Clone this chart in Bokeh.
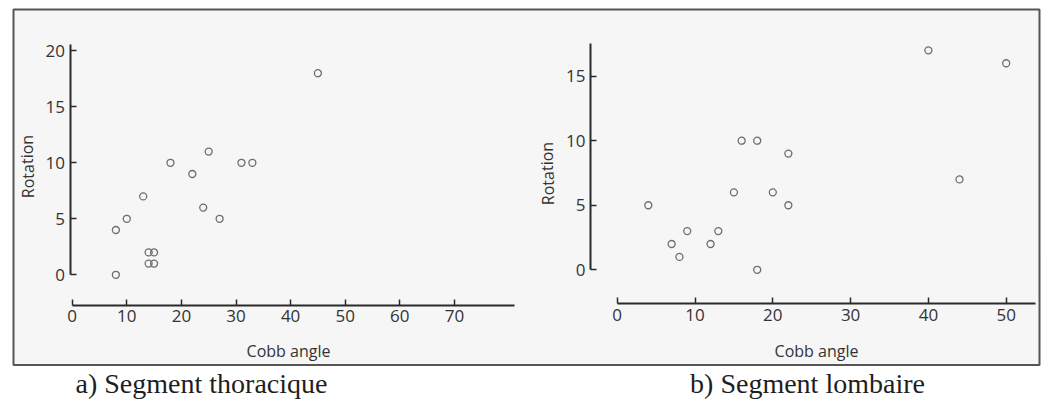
from bokeh.plotting import figure
from bokeh.models import Range1d, LinearAxis, FixedTicker, Label, ColumnDataSource
from bokeh.embed import file_html
from bokeh.resources import INLINE

# ---- data ----
thor_cobb = [8, 8, 10, 13, 14, 15, 14, 15, 18, 22, 24, 25, 27, 31, 33, 45]
thor_rot = [4, 0, 5, 7, 2, 2, 1, 1, 10, 9, 6, 11, 5, 10, 10, 18]
lomb_cobb = [4, 7, 8, 9, 12, 13, 15, 16, 18, 18, 20, 22, 22, 40, 44, 50]
lomb_rot = [5, 2, 1, 3, 2, 3, 6, 10, 10, 0, 6, 9, 5, 17, 7, 16]
thor_xticks = [0, 10, 20, 30, 40, 50, 60, 70]
thor_yticks = [0, 5, 10, 15, 20]
lomb_xticks = [0, 10, 20, 30, 40, 50]
lomb_yticks = [0, 5, 10, 15]
x_title = "Cobb angle"
y_title = "Rotation"
caption_a = "a) Segment thoracique"
caption_b = "b) Segment lombaire"

W, H = 1042, 402
TICK_FONT = "Open Sans"
INK = "#2a2a2a"

p = figure(width=W, height=H, output_backend="svg", toolbar_location=None,
           x_range=Range1d(0, W), y_range=Range1d(0, H),
           x_axis_location=None, y_axis_location=None,
           min_border=0, min_border_left=0, min_border_right=0,
           min_border_top=0, min_border_bottom=0,
           outline_line_color=None, background_fill_color="white",
           border_fill_color="white")
p.xgrid.visible = False
p.ygrid.visible = False

# panel background + border (pixel coordinates, y measured from the bottom)
p.quad(left=[13], right=[1039], bottom=[37.5], top=[393],
       fill_color="#f6f6f6", line_color="#555555", line_width=2)

def add_chart(name, x0, xs, y0, ys, xaxis_y, xbound, yaxis_x, ybound, xticks, yticks):
    # ranges calibrated so that data x=0 lies at canvas pixel x0 with xs px/unit
    p.extra_x_ranges[name + "x"] = Range1d(-x0 / xs, (W - x0) / xs)
    p.extra_y_ranges[name + "y"] = Range1d(-y0 / ys, (H - y0) / ys)
    xa = LinearAxis(x_range_name=name + "x", y_range_name=name + "y",
                    fixed_location=xaxis_y, bounds=xbound,
                    ticker=FixedTicker(ticks=xticks))
    ya = LinearAxis(x_range_name=name + "x", y_range_name=name + "y",
                    fixed_location=yaxis_x, bounds=ybound,
                    ticker=FixedTicker(ticks=yticks))
    for ax in (xa, ya):
        ax.axis_line_width = 2
        ax.axis_line_color = INK
        ax.major_tick_line_color = INK
        ax.major_tick_line_width = 1.5
        ax.major_tick_in = 6
        ax.major_tick_out = 0
        ax.minor_tick_line_color = None
        ax.major_label_text_font = TICK_FONT
        ax.major_label_text_font_size = "17px"
        ax.major_label_text_color = "#333333"
    xa.major_label_standoff = 5
    ya.major_label_standoff = 5
    p.add_layout(xa, "below")
    p.add_layout(ya, "left")
    return name + "x", name + "y"

# left chart: x=0 at px 71.7, 5.46 px/unit ; y=0 at px 274.3 from top, 11.2 px/unit
lx, ly = add_chart("l", 71.7, 5.46, H - 274.3, 11.2, -2.74, (0, 81.0), -0.4, (0, 20.6),
                   thor_xticks, thor_yticks)
# right chart: x=0 at px 616.7, 7.78 px/unit ; y=0 at px 269.3 from top, 12.91 px/unit
rx, ry = add_chart("r", 616.7, 7.78, H - 269.3, 12.91, -2.63, (0, 53.8), -3.43, (0, 17.5),
                   lomb_xticks, lomb_yticks)

src_l = ColumnDataSource(dict(x=thor_cobb, y=thor_rot))
src_r = ColumnDataSource(dict(x=lomb_cobb, y=lomb_rot))
p.scatter("x", "y", source=src_l, x_range_name=lx, y_range_name=ly, marker="circle",
          size=7, fill_color=None, line_color="#6e6e6e", line_width=1.3)
p.scatter("x", "y", source=src_r, x_range_name=rx, y_range_name=ry, marker="circle",
          size=7, fill_color=None, line_color="#6e6e6e", line_width=1.3)

def lab(text, x, y, size, font, angle=0, color="#333333", align="center", baseline="middle"):
    p.add_layout(Label(x=x, y=y, text=text, text_font=font, text_font_size=size,
                       text_color=color, text_align=align, text_baseline=baseline,
                       angle=angle))

# axis titles (canvas pixel coords)
lab(x_title, 288, H - 350, "16px", TICK_FONT)
lab(x_title, 816, H - 350, "16px", TICK_FONT)
lab(y_title, 27, H - 166, "16px", TICK_FONT, angle=1.5708)
lab(y_title, 547, H - 173, "16px", TICK_FONT, angle=1.5708)
# captions
lab(caption_a, 201, 19, "28px", "Liberation Serif", color="#1e1e1e")
lab(caption_b, 807, 19, "28px", "Liberation Serif", color="#1e1e1e")

open("out.html", "w").write(file_html(p, INLINE))
